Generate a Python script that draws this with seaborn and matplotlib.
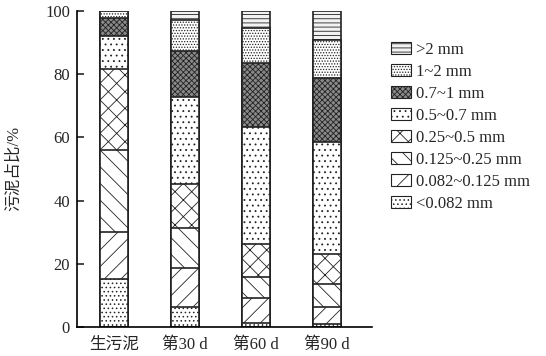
import numpy as np
import pandas as pd
import matplotlib
matplotlib.use("Agg")
import matplotlib.pyplot as plt
import seaborn as sns
from matplotlib.patches import Patch

sns.set_theme(style="ticks")
plt.rcParams['font.family'] = ['Liberation Serif', 'Noto Sans CJK SC']
plt.rcParams['hatch.linewidth'] = 0.6
plt.rcParams['hatch.color'] = 'black'

categories = ["生污泥", "第30 d", "第60 d", "第90 d"]
size_classes = ["<0.082 mm", "0.082~0.125 mm", "0.125~0.25 mm", "0.25~0.5 mm",
                "0.5~0.7 mm", "0.7~1 mm", "1~2 mm", ">2 mm"]
raw_sludge = [15.2, 14.9, 25.9, 25.6, 10.4, 5.8, 2.2, 0.0]
day30 = [6.3, 12.4, 12.6, 14.0, 27.4, 14.6, 9.8, 2.9]
day60 = [1.2, 8.1, 6.6, 10.4, 36.9, 20.4, 10.9, 5.5]
day90 = [0.9, 5.5, 7.1, 9.6, 35.3, 20.3, 12.1, 9.2]
legend_labels = [">2 mm", "1~2 mm", "0.7~1 mm", "0.5~0.7 mm", "0.25~0.5 mm",
                 "0.125~0.25 mm", "0.082~0.125 mm", "<0.082 mm"]

hatches = ["....", "//", "\\\\", "xx", "...", "xxxxxx", "......", "----"]
faces = ["white", "white", "white", "white", "white", "#8a8a8a", "white", "#f2f2f2"]

data = np.array([raw_sludge, day30, day60, day90])
cum = np.cumsum(data, axis=1)

fig = plt.figure(figsize=(5.46, 3.56), dpi=100)
ax = fig.add_axes([0.141, 0.0815, 0.54, 0.888])

for k in range(len(size_classes) - 1, -1, -1):
    df = pd.DataFrame({"cat": categories, "val": cum[:, k]})
    n_before = len(ax.patches)
    sns.barplot(data=df, x="cat", y="val", ax=ax, width=0.4, color="white",
                edgecolor="#222222", linewidth=1.2, saturation=1)
    for p in ax.patches[n_before:]:
        p.set_facecolor(faces[k])
        p.set_hatch(hatches[k])

ax.set_xlim(-0.52, 3.63)
ax.set_ylim(0, 100)
ax.set_yticks([0, 20, 40, 60, 80, 100])
ax.tick_params(axis='y', direction='in', length=5, width=1.2, labelsize=12, pad=5)
ax.tick_params(axis='x', length=0, labelsize=12, pad=7)
ax.set_xlabel("")
ax.set_ylabel("污泥占比/%", fontsize=12)
ax.yaxis.set_label_coords(-0.185, 0.5)
sns.despine(ax=ax)
for s in ["left", "bottom"]:
    ax.spines[s].set_linewidth(1.2)
    ax.spines[s].set_color("black")

order = list(range(len(size_classes) - 1, -1, -1))
handles = [Patch(facecolor=faces[k], edgecolor="#222222", hatch=hatches[k], linewidth=0.8)
           for k in order]
fig.legend(handles, legend_labels, loc="upper left", bbox_to_anchor=(0.703, 0.902),
           frameon=False, fontsize=12, handlelength=1.2, handleheight=0.75,
           labelspacing=0.36, handletextpad=0.3, borderaxespad=0)

fig.savefig("out.png", dpi=100)
